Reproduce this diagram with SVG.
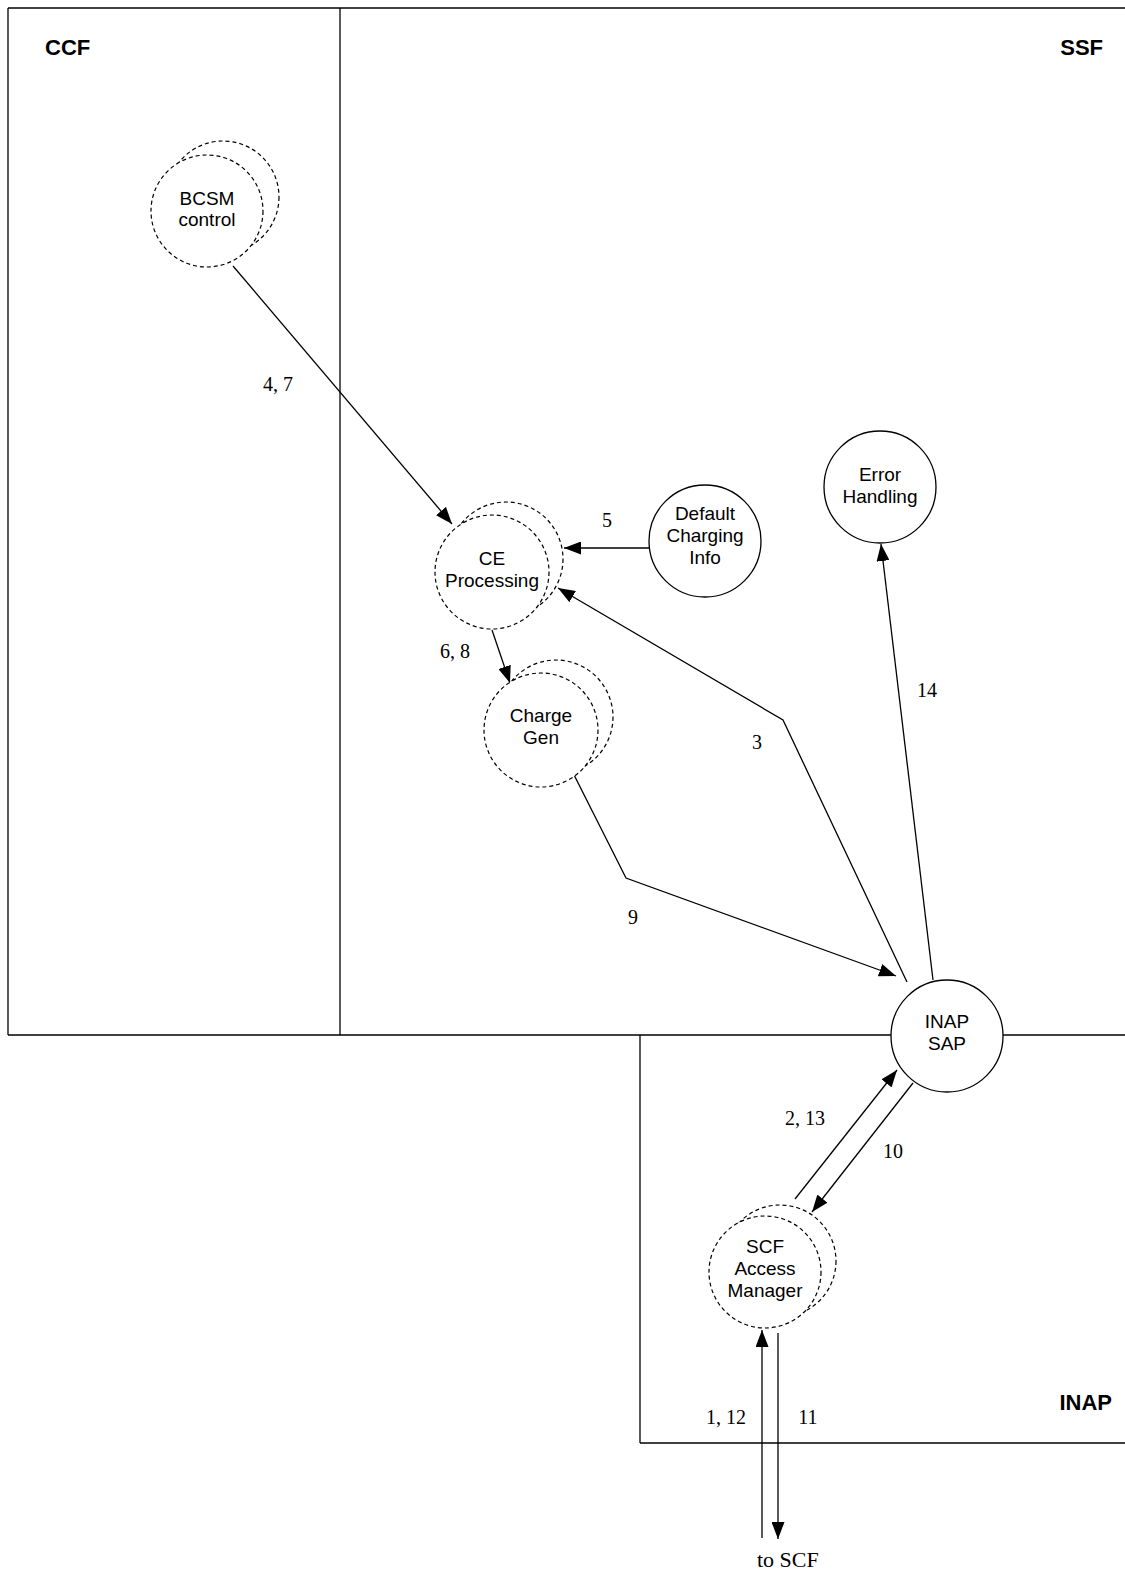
<svg xmlns="http://www.w3.org/2000/svg" width="1125" height="1570" viewBox="0 0 1125 1570">
<style>
.b{fill:none;stroke:#000;stroke-width:1.3}
.d{fill:#fff;stroke:#000;stroke-width:1.2;stroke-dasharray:4,3}
.s{fill:#fff;stroke:#000;stroke-width:1.3}
.c{fill:none;stroke:#000;stroke-width:1.3}
.n{font-family:"Liberation Sans",Arial,sans-serif;font-size:19px;text-anchor:middle;fill:#000}
.t{font-family:"Liberation Sans",Arial,sans-serif;font-size:22px;font-weight:bold;fill:#000}
.l{font-family:"Liberation Serif","Times New Roman",serif;font-size:20px;text-anchor:middle;fill:#000}
</style>
<defs>
<marker id="a" markerWidth="17" markerHeight="13" refX="17" refY="6.5" orient="auto" markerUnits="userSpaceOnUse">
<path d="M0,0 L17,6.5 L0,13 Z" fill="#000"/>
</marker>
</defs>
<g id="frame">
<line class="b" x1="8" y1="8" x2="1125" y2="8"/>
<line class="b" x1="8" y1="8" x2="8" y2="1035"/>
<line class="b" x1="340" y1="8" x2="340" y2="1035"/>
<line class="b" x1="8" y1="1035" x2="892" y2="1035"/>
<line class="b" x1="1003" y1="1035" x2="1125" y2="1035"/>
<line class="b" x1="640" y1="1035" x2="640" y2="1443"/>
<line class="b" x1="640" y1="1443" x2="1125" y2="1443"/>
<text class="t" x="45" y="55">CCF</text>
<text class="t" x="1103" y="55" text-anchor="end">SSF</text>
<text class="t" x="1112" y="1410" text-anchor="end">INAP</text>
</g>
<g id="connectors">
<line class="c" x1="233" y1="266" x2="452" y2="524" marker-end="url(#a)"/>
<text class="l" x="278" y="391">4, 7</text>
<line class="c" x1="649" y1="548" x2="564" y2="548" marker-end="url(#a)"/>
<text class="l" x="607" y="527">5</text>
<line class="c" x1="492" y1="630" x2="510" y2="683" marker-end="url(#a)"/>
<text class="l" x="455" y="658">6, 8</text>
<polyline class="c" points="907,982 783,720 558,588" marker-end="url(#a)"/>
<text class="l" x="757" y="749">3</text>
<polyline class="c" points="565,757 626,878 896,976" marker-end="url(#a)"/>
<text class="l" x="633" y="924">9</text>
<line class="c" x1="933" y1="980" x2="881" y2="544" marker-end="url(#a)"/>
<text class="l" x="927" y="697">14</text>
<line class="c" x1="795" y1="1199" x2="897" y2="1070" marker-end="url(#a)"/>
<text class="l" x="805" y="1125">2, 13</text>
<line class="c" x1="913" y1="1083" x2="812" y2="1212" marker-end="url(#a)"/>
<text class="l" x="893" y="1158">10</text>
<line class="c" x1="762" y1="1538" x2="762" y2="1330" marker-end="url(#a)"/>
<line class="c" x1="778" y1="1333" x2="778" y2="1539" marker-end="url(#a)"/>
<text class="l" x="726" y="1424">1, 12</text>
<text class="l" x="808" y="1424">11</text>
<text class="l" x="757" y="1567" style="font-size:22px;text-anchor:start">to SCF</text>
</g>
<g id="bcsm">
<circle class="d" cx="223" cy="197" r="56"/>
<circle class="d" cx="207" cy="211" r="56"/>
<text class="n" x="207" y="205">BCSM</text>
<text class="n" x="207" y="226">control</text>
</g>
<g id="ce">
<circle class="d" cx="506" cy="559" r="57"/>
<circle class="d" cx="492" cy="572" r="57"/>
<text class="n" x="492" y="565">CE</text>
<text class="n" x="492" y="587">Processing</text>
</g>
<g id="default">
<circle class="s" cx="705" cy="541" r="56"/>
<text class="n" x="705" y="520">Default</text>
<text class="n" x="705" y="542">Charging</text>
<text class="n" x="705" y="564">Info</text>
</g>
<g id="error">
<circle class="s" cx="880" cy="487" r="56"/>
<text class="n" x="880" y="481">Error</text>
<text class="n" x="880" y="503">Handling</text>
</g>
<g id="chargegen">
<circle class="d" cx="556" cy="717" r="57"/>
<circle class="d" cx="541" cy="730" r="57"/>
<text class="n" x="541" y="722">Charge</text>
<text class="n" x="541" y="744">Gen</text>
</g>
<g id="inapsap">
<circle class="s" cx="947" cy="1036" r="56"/>
<text class="n" x="947" y="1028">INAP</text>
<text class="n" x="947" y="1050">SAP</text>
</g>
<g id="scfam">
<circle class="d" cx="780" cy="1261" r="56"/>
<circle class="d" cx="765" cy="1272" r="56"/>
<text class="n" x="765" y="1253">SCF</text>
<text class="n" x="765" y="1275">Access</text>
<text class="n" x="765" y="1297">Manager</text>
</g>
</svg>
